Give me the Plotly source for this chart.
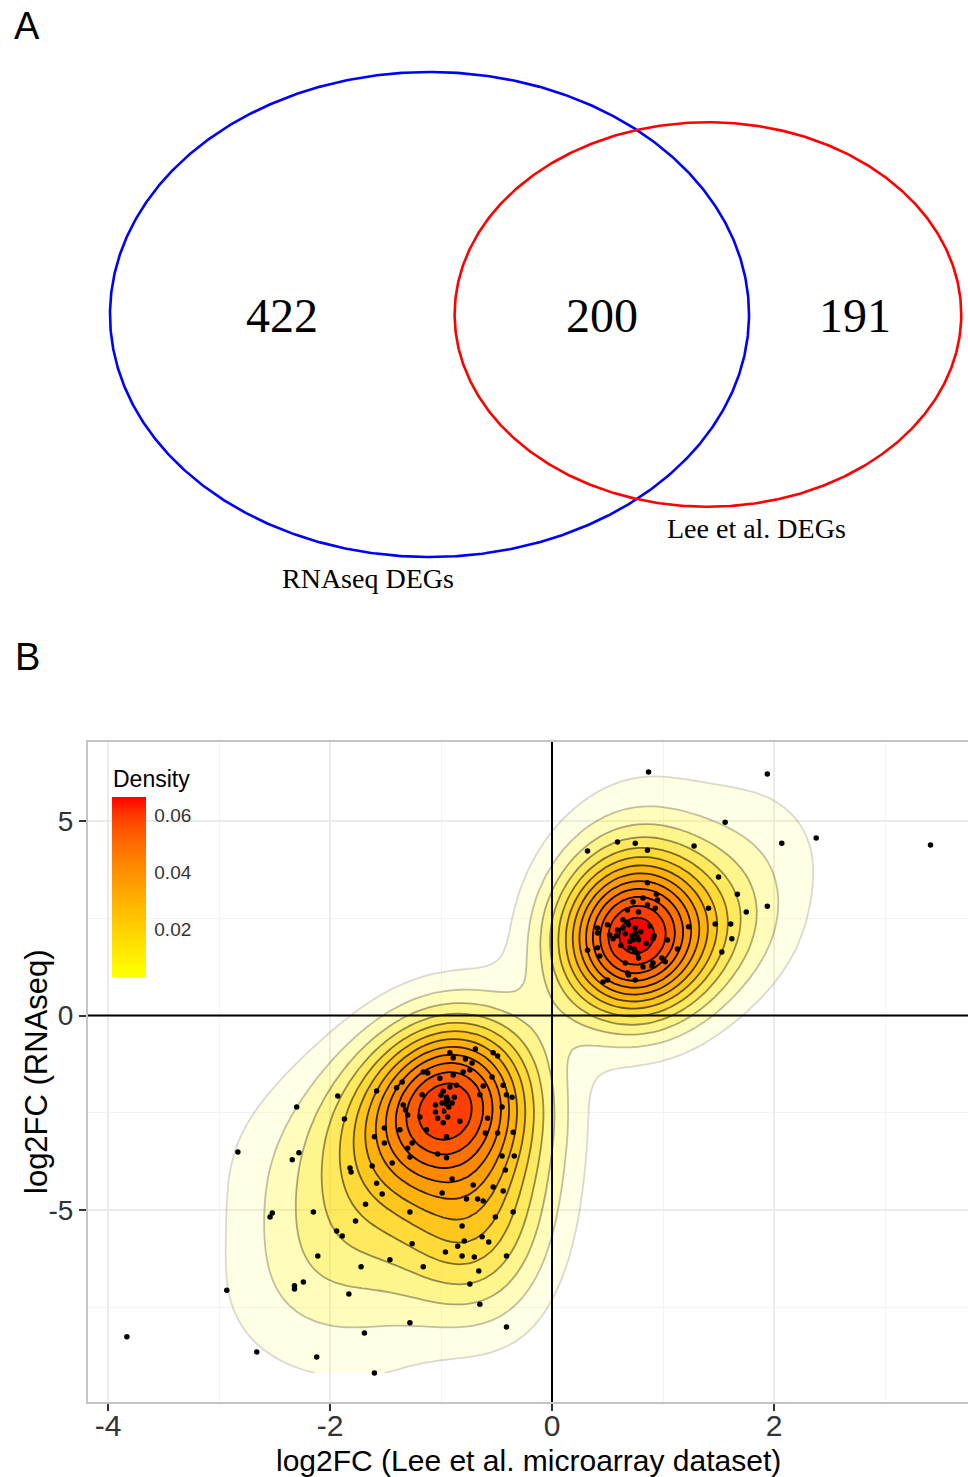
import numpy as np
import plotly.graph_objects as go

# ---------------- data ----------------
# Panel A: Venn counts
venn_labels = ["RNAseq only", "Both", "Lee et al. only"]
venn_counts = [422, 200, 191]
set_names = ["RNAseq DEGs", "Lee et al. DEGs"]

# Panel B: log2 fold changes of common DEGs (read from the picture;
# the last 22 are estimates for dots hidden in the two dense cores)
lee_log2fc = [
    0.87, 1.94, 1.56, 2.07, 2.38, 3.41, 0.32, 0.59, 0.75, 0.86, 1.28, 1.50, 1.67, 1.75, 1.94, 0.86,
    1.41, 1.47, 1.61, 1.62, 1.53, 1.23, 1.13, 1.04, 0.94, 0.95, 0.82, 0.73, 0.86, 0.93, 0.68, 0.78,
    0.64, 0.69, 0.50, 0.41, 0.59, 0.52, 0.55, 0.41, 0.75, 0.73, 0.77, 0.91, 0.70, 0.75, 0.32, 0.41,
    0.43, 0.78, 0.82, 0.91, 0.90, 0.99, 1.02, 0.66, 0.68, 0.69, 0.75, 0.50, 0.46,
    -0.92, -0.69, -0.53, -0.49, -0.89, -0.78, -0.72, -1.16, -1.12, -0.74,
    -0.80, -0.89, -1.01, -1.35, -1.40, -0.54, -1.58, -0.86, -0.92, -0.44,
    -0.62, -1.93, -1.17, -0.65, -0.41, -0.36, -0.95, -0.94, -0.99, -0.95,
    -1.34, -1.32, -1.30, -1.05, -1.03, -0.98, -0.94, -0.45, -2.30, -1.87,
    -0.58, -1.51, -1.37, -1.13, -0.95, -0.60, -0.49, -0.35, -1.60, -1.51,
    -1.26, -1.30, -1.03, -0.95, -0.45, -0.34, -2.83, -2.28, -2.34, -1.44,
    -1.28, -1.62, -1.82, -1.81, -0.42, -0.90, -1.58, -0.71, -0.53, -0.44,
    -0.99, -1.53, -0.77, -0.67, -0.62, -1.68, -2.52, -2.54, -2.15, -1.28,
    -0.35, -0.51, -1.77, -0.81, -1.94, -1.89, -0.63, -0.57, -0.79, -1.26,
    -0.85, -0.96, -0.81, -0.70, -0.41, -2.11, -1.46, -1.72, -1.16, -0.66,
    -0.74, -2.24, -2.32, -2.32, -2.93, -1.83, -0.65, -1.28, -0.41, -1.69,
    -3.83, -2.66, -2.12, -1.60, -0.83, -1.19,
    0.72, 0.78, 0.70, 0.80, 0.66, 0.75, 0.85, 0.62, 0.74, 0.88, 0.68, 0.58, 0.92, 0.77, 0.64,
    -0.95, -0.90, -1.00, -0.93, -0.98, -0.88, -1.05,
]
rnaseq_log2fc = [
    6.26, 6.21, 4.97, 4.43, 4.56, 4.38, 4.23, 4.46, 4.43, 4.25, 4.36, 3.56, 3.12, 2.66, 2.81, 3.41,
    2.76, 2.35, 2.35, 1.97, 1.63, 2.28, 1.71, 1.94, 3.12, 2.97, 3.02, 2.92, 2.84, 2.76, 2.71, 2.66,
    2.46, 2.33, 2.33, 2.25, 2.20, 2.07, 1.97, 2.12, 2.12, 1.94, 2.02, 1.97, 1.74, 1.63, 1.68, 1.74,
    1.53, 1.48, 1.25, 1.35, 1.27, 1.48, 1.38, 1.35, 1.09, 1.04, 0.91, 0.91, 0.86,
    -0.96, -0.86, -0.96, -1.04, -1.09, -1.12, -1.22, -1.45, -1.48, -1.40,
    -1.45, -1.53, -1.61, -1.71, -1.86, -1.58, -1.94, -1.79, -1.84, -1.79,
    -1.81, -2.07, -2.04, -2.04, -2.04, -2.10, -2.10, -2.17, -2.25, -2.28,
    -2.30, -2.43, -2.56, -2.48, -2.64, -2.76, -2.61, -2.35, -2.35, -2.66,
    -2.64, -2.89, -2.94, -2.94, -3.12, -3.02, -3.02, -3.00, -3.12, -3.28,
    -3.28, -3.41, -3.56, -3.66, -3.61, -3.61, -3.51, -3.53, -3.71, -3.79,
    -3.64, -3.87, -3.92, -4.02, -3.97, -4.20, -4.31, -4.36, -4.41, -4.51,
    -4.56, -4.59, -4.72, -4.72, -4.77, -4.85, -5.08, -5.18, -5.05, -5.05,
    -5.05, -5.18, -5.28, -5.41, -5.54, -5.67, -5.69, -5.82, -5.80, -5.87,
    -5.93, -6.08, -6.18, -6.21, -6.18, -6.18, -6.28, -6.46, -6.46, -6.57,
    -6.90, -6.85, -6.95, -7.03, -7.06, -7.16, -7.42, -7.90, -8.01, -8.16,
    -8.26, -8.65, -8.78, -9.19, -2.72, -2.61,
    2.05, 1.95, 1.90, 2.15, 2.10, 2.25, 1.85, 1.80, 1.70, 2.30, 2.40, 2.05, 2.05, 1.60, 2.25,
    -2.15, -2.25, -2.05, -2.35, -1.95, -2.10, -2.30,
]
x_ticks = [-4, -2, 0, 2]
y_ticks = [-5, 0, 5]
density_ticks = [0.02, 0.04, 0.06]
level_step = 0.005

# ---------------- helpers ----------------
def _lin(c):
    c = c / 255.0
    return np.where(c <= 0.04045, c / 12.92, ((c + 0.055) / 1.055) ** 2.4)

def _delin(c):
    c = np.where(c <= 0.0031308, 12.92 * c, 1.055 * np.power(np.clip(c, 0, None), 1 / 2.4) - 0.055)
    return np.clip(np.round(c * 255), 0, 255)

_M = np.array([[0.4124564, 0.3575761, 0.1804375],
               [0.2126729, 0.7151522, 0.0721750],
               [0.0193339, 0.1191920, 0.9503041]])
_WP = np.array([0.95047, 1.0, 1.08883])

def rgb_to_lab(rgb):
    xyz = _M @ _lin(np.array(rgb, float)) / _WP
    f = np.where(xyz > (6 / 29) ** 3, np.cbrt(xyz), xyz / (3 * (6 / 29) ** 2) + 4 / 29)
    return np.array([116 * f[1] - 16, 500 * (f[0] - f[1]), 200 * (f[1] - f[2])])

def lab_to_rgb(lab):
    fy = (lab[0] + 16) / 116
    f = np.array([fy + lab[1] / 500, fy, fy - lab[2] / 200])
    xyz = np.where(f > 6 / 29, f ** 3, 3 * (6 / 29) ** 2 * (f - 4 / 29)) * _WP
    return _delin(np.linalg.solve(_M, xyz))

LAB_LOW = rgb_to_lab([255, 255, 0])    # yellow
LAB_HIGH = rgb_to_lab([255, 0, 0])     # red

def gradient(t):
    t = float(np.clip(t, 0, 1))
    return lab_to_rgb(LAB_LOW + (LAB_HIGH - LAB_LOW) * t).astype(int)

# ---------------- 2D kernel density (MASS::kde2d style) ----------------
x = np.array(lee_log2fc)
y = np.array(rnaseq_log2fc)
n = len(x)

def bw_nrd(v):
    q75, q25 = np.percentile(v, [75, 25])
    return 4 * 1.06 * min(np.std(v, ddof=1), (q75 - q25) / 1.34) * len(v) ** -0.2

hx, hy = bw_nrd(x) / 4, bw_nrd(y) / 4
gx = np.linspace(x.min(), x.max(), 100)
gy = np.linspace(y.min(), y.max(), 100)
dn = lambda u: np.exp(-0.5 * u * u) / np.sqrt(2 * np.pi)
kx = dn((gx[:, None] - x[None, :]) / hx)
ky = dn((gy[:, None] - y[None, :]) / hy)
dens = (ky @ kx.T) / (n * hx * hy)

levels = level_step * np.arange(1, int(dens.max() / level_step) + 1)
lo, hi = levels[0], levels[-1]

fig = go.Figure()

# stacked semi-transparent polygons, one per density level (region above the level)
for L in levels:
    t = (L - lo) / (hi - lo)
    a = 0.1 + 0.9 * t
    la = min(1.0, 0.15 + 1.1 * t)
    r, g, b = gradient(t)
    fig.add_trace(go.Contour(
        x=gx, y=gy, z=dens,
        contours=dict(type="constraint", operation="<", value=float(L)),
        fillcolor=f"rgba({r},{g},{b},{a:.3f})",
        line=dict(color=f"rgba(0,0,0,{la:.3f})", width=1.8, smoothing=1),
        showscale=False, hoverinfo="skip", showlegend=False,
        xaxis="x", yaxis="y",
    ))

fig.add_trace(go.Scatter(
    x=x, y=y, mode="markers",
    marker=dict(color="black", size=5.5),
    hoverinfo="skip", showlegend=False, xaxis="x", yaxis="y",
))

# colour bar (ggplot style: half-bin beyond limits)
ext = (hi - lo) * 0.5 / 19
cs = []
for i in range(21):
    f = i / 20
    v = (lo - ext) + f * (hi - lo + 2 * ext)
    rr, gg, bb = gradient((v - lo) / (hi - lo))
    cs.append([f, f"rgb({rr},{gg},{bb})"])
fig.add_trace(go.Scatter(
    x=[None], y=[None], mode="markers", xaxis="x", yaxis="y",
    marker=dict(color=[lo], cmin=lo - ext, cmax=hi + ext, colorscale=cs, showscale=True,
                colorbar=dict(
                    thickness=34, thicknessmode="pixels", len=180, lenmode="pixels",
                    x=112 / 968, xanchor="left", y=(1477 - 977) / 1477, yanchor="bottom",
                    xpad=0, ypad=0, outlinewidth=0,
                    tickmode="array", tickvals=density_ticks, ticktext=[f"{v:.2f}" for v in density_ticks],
                    ticks="outside", ticklen=5, tickcolor="white", tickwidth=1,
                    tickfont=dict(size=19, color="#333333", family="Liberation Sans"),
                )),
    hoverinfo="skip", showlegend=False,
))

# ---------------- Venn diagram (area-proportional) ----------------
r1 = np.sqrt(venn_counts[0] + venn_counts[1])
r2 = np.sqrt(venn_counts[2] + venn_counts[1])
target = venn_counts[1]  # overlap area in same units (area/pi)

def lens(d):
    c1 = np.arccos(np.clip((d * d + r1 * r1 - r2 * r2) / (2 * d * r1), -1, 1))
    c2 = np.arccos(np.clip((d * d + r2 * r2 - r1 * r1) / (2 * d * r2), -1, 1))
    k = (-d + r1 + r2) * (d + r1 - r2) * (d - r1 + r2) * (d + r1 + r2)
    return (r1 * r1 * c1 + r2 * r2 * c2 - 0.5 * np.sqrt(max(k, 0))) / np.pi

dlo, dhi = abs(r1 - r2) + 1e-9, r1 + r2
for _ in range(100):
    dm = 0.5 * (dlo + dhi)
    if lens(dm) > target:
        dlo = dm
    else:
        dhi = dm
d = 0.5 * (dlo + dhi)

th = np.linspace(0, 2 * np.pi, 721)
fig.add_trace(go.Scatter(x=r1 * np.cos(th), y=r1 * np.sin(th), mode="lines",
                         line=dict(color="#0000ff", width=2.6), xaxis="x2", yaxis="y2",
                         hoverinfo="skip", showlegend=False))
fig.add_trace(go.Scatter(x=d + r2 * np.cos(th), y=r2 * np.sin(th), mode="lines",
                         line=dict(color="#ff0000", width=2.6), xaxis="x2", yaxis="y2",
                         hoverinfo="skip", showlegend=False))
label_x = [(-r1 + d - r2) / 2, (d - r2 + r1) / 2, (r1 + d + r2) / 2]

annotations = []
for lx, c in zip(label_x, venn_counts):
    annotations.append(dict(text=str(c), x=float(lx), y=0, xref="x2", yref="y2", showarrow=False,
                            xanchor="center", yanchor="middle", yshift=-1,
                            font=dict(family="Liberation Serif", size=48, color="black")))

annotations += [
    dict(text=set_names[0], x=-4.80, y=-27.10, xref="x2", yref="y2", showarrow=False,
         font=dict(family="Liberation Serif", size=28, color="black")),
    dict(text=set_names[1], x=25.56, y=-21.96, xref="x2", yref="y2", showarrow=False,
         font=dict(family="Liberation Serif", size=28, color="black")),
    dict(text="A", x=27 / 968, y=1 - 26 / 1477, xref="paper", yref="paper", showarrow=False,
         xanchor="center", yanchor="middle",
         font=dict(family="Liberation Sans", size=38, color="black")),
    dict(text="B", x=27 / 968, y=1 - 657 / 1477, xref="paper", yref="paper", showarrow=False,
         xanchor="center", yanchor="middle",
         font=dict(family="Liberation Sans", size=38, color="black")),
    dict(text="Density", x=111 / 968, y=1 - 779 / 1477, xref="paper", yref="paper",
         xanchor="left", yanchor="middle", showarrow=False,
         font=dict(family="Liberation Sans", size=23, color="black")),
    dict(text="log2FC (Lee et al. microarray dataset)", x=528 / 968, y=1 - 1460 / 1477,
         xref="paper", yref="paper", showarrow=False, xanchor="center", yanchor="middle",
         font=dict(family="Liberation Sans", size=30, color="black")),
    dict(text="log2FC (RNAseq)", x=36 / 968, y=1 - 1072 / 1477, xref="paper", yref="paper",
         showarrow=False, textangle=-90, xanchor="center", yanchor="middle",
         font=dict(family="Liberation Sans", size=31, color="black")),
]

shapes = [
    dict(type="line", xref="x", yref="y domain", x0=0, x1=0, y0=0, y1=1,
         line=dict(color="black", width=2), layer="above"),
    dict(type="line", xref="x domain", yref="y", x0=0, x1=1, y0=0, y1=0,
         line=dict(color="black", width=2), layer="above"),
]

x_px0 = 552.0; x_ppu = 111.0
y_px0 = 1015.5; y_ppu = 38.9

fig.update_layout(
    width=968, height=1477,
    margin=dict(l=0, r=0, t=0, b=0, pad=0),
    paper_bgcolor="white", plot_bgcolor="white",
    font=dict(family="Liberation Sans", color="black"),
    hovermode=False,
    annotations=annotations, shapes=shapes,
    xaxis=dict(
        domain=[88 / 968, 1.0], anchor="y",
        range=[(88 - x_px0) / x_ppu, (968 - x_px0) / x_ppu],
        tickmode="array", tickvals=x_ticks, ticktext=[str(v) for v in x_ticks],
        ticks="outside", ticklen=7, tickwidth=1.5, tickcolor="#333333",
        ticklabelstandoff=-11,
        tickfont=dict(size=30, color="#333333"),
        showgrid=True, gridcolor="#ebebeb", gridwidth=1.5,
        minor=dict(tickmode="array", tickvals=[-3, -1, 1, 3], showgrid=True, gridcolor="#f3f3f3",
                   gridwidth=1, ticks=""),
        showline=True, linecolor="#c4c4c4", linewidth=2, mirror=True, zeroline=False,
    ),
    yaxis=dict(
        domain=[(1477 - 1402) / 1477, (1477 - 742) / 1477], anchor="x",
        range=[(y_px0 - 1402) / y_ppu, (y_px0 - 742) / y_ppu],
        tickmode="array", tickvals=y_ticks, ticktext=[str(v) for v in y_ticks],
        ticks="outside", ticklen=7, tickwidth=1.5, tickcolor="#333333",
        tickfont=dict(size=28, color="#333333"),
        showgrid=True, gridcolor="#ebebeb", gridwidth=1.5,
        minor=dict(tickmode="array", tickvals=[-7.5, -2.5, 2.5], showgrid=True, gridcolor="#f3f3f3",
                   gridwidth=1, ticks=""),
        showline=True, linecolor="#c4c4c4", linewidth=2, mirror=False, zeroline=False,
    ),
    xaxis2=dict(domain=[0, 1], anchor="y2", range=[-429.5 / 12.811, (968 - 429.5) / 12.811],
                visible=False, fixedrange=True),
    yaxis2=dict(domain=[(1477 - 620) / 1477, 1], anchor="x2",
                range=[(314.5 - 620) / 9.7234, 314.5 / 9.7234], visible=False, fixedrange=True),
)

fig.write_html("out.html")
